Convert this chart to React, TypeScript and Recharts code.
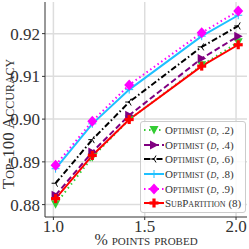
import { LineChart, Line, XAxis, YAxis, CartesianGrid } from "recharts";

const probed = [1.012, 1.213, 1.415, 1.812, 2.012];
const optimist2 = [0.8801, 0.8911, 0.8999, 0.9126, 0.918];
const optimist4 = [0.8822, 0.8923, 0.9009, 0.9142, 0.9194];
const optimist6 = [0.885, 0.8952, 0.904, 0.9169, 0.9218];
const optimist8 = [0.8884, 0.8989, 0.9069, 0.9194, 0.9243];
const optimist9 = [0.8892, 0.8995, 0.908, 0.9202, 0.9253];
const subPartition = [0.8814, 0.8915, 0.8999, 0.9124, 0.9174];

const xTicks = [1.0, 1.5, 2.0];
const yTicks = [0.88, 0.89, 0.9, 0.91, 0.92];

const data = probed.map((x, i) => ({
  x,
  o2: optimist2[i],
  o4: optimist4[i],
  o6: optimist6[i],
  o8: optimist8[i],
  o9: optimist9[i],
  sp: subPartition[i],
}));

const FONT = "'Liberation Serif', 'DejaVu Serif', serif";
const TEXT = "#333";

type MarkerKind = "down" | "right" | "tri" | "plus" | "diamond" | "bigplus";

function Marker({ kind, cx, cy, color }: { kind: MarkerKind; cx: number; cy: number; color: string }) {
  if (kind === "down") {
    return <polygon points={`${cx - 4.5},${cy - 4} ${cx + 4.5},${cy - 4} ${cx},${cy + 4.5}`} fill={color} />;
  }
  if (kind === "right") {
    return <polygon points={`${cx - 4},${cy - 4.5} ${cx - 4},${cy + 4.5} ${cx + 4.5},${cy}`} fill={color} />;
  }
  if (kind === "tri") {
    return (
      <g stroke={color} strokeWidth={1}>
        <line x1={cx} y1={cy} x2={cx - 4} y2={cy} />
        <line x1={cx} y1={cy} x2={cx + 2} y2={cy - 3.5} />
        <line x1={cx} y1={cy} x2={cx + 2} y2={cy + 3.5} />
      </g>
    );
  }
  if (kind === "plus") {
    return (
      <g stroke={color} strokeWidth={1}>
        <line x1={cx - 4} y1={cy} x2={cx + 4} y2={cy} />
        <line x1={cx} y1={cy - 4} x2={cx} y2={cy + 4} />
      </g>
    );
  }
  if (kind === "diamond") {
    return <polygon points={`${cx},${cy - 5.5} ${cx + 5},${cy} ${cx},${cy + 5.5} ${cx - 5},${cy}`} fill={color} />;
  }
  return (
    <g fill={color}>
      <rect x={cx - 4.5} y={cy - 1.6} width={9} height={3.2} />
      <rect x={cx - 1.6} y={cy - 4.5} width={3.2} height={9} />
    </g>
  );
}

const series = [
  { key: "o2", color: "#33cc33", dash: "1.5 3.5", kind: "down" as MarkerKind, d: ".2" },
  { key: "o4", color: "#800080", dash: "6 3", kind: "right" as MarkerKind, d: ".4" },
  { key: "o6", color: "#000000", dash: "6 2.5 1.5 2.5", kind: "tri" as MarkerKind, d: ".6" },
  { key: "o8", color: "#1ec0ff", dash: undefined, kind: "plus" as MarkerKind, d: ".8" },
  { key: "o9", color: "#ff00ff", dash: "1.5 3", kind: "diamond" as MarkerKind, d: ".9" },
  { key: "sp", color: "#ff0000", dash: undefined, kind: "bigplus" as MarkerKind, d: "" },
];

function LegendBox() {
  return (
    <div
      style={{
        position: "absolute",
        left: 140,
        top: 121,
        width: 106,
        border: "1px solid #cccccc",
        borderRadius: 3,
        background: "rgba(255,255,255,0.85)",
        padding: "1px 2px 1px 2px",
        fontFamily: FONT,
        fontSize: 11,
        fontVariant: "small-caps",
        color: TEXT,
        boxSizing: "border-box",
      }}
    >
      {series.map((s) => (
        <div key={s.key} style={{ display: "flex", alignItems: "center", height: 14.6, whiteSpace: "nowrap" }}>
          <svg width={21} height={12} style={{ flex: "none" }}>
            <line x1={1} y1={6} x2={21} y2={6} stroke={s.color} strokeWidth={2} strokeDasharray={s.dash} />
            <Marker kind={s.kind} cx={11} cy={6} color={s.color} />
          </svg>
          <span style={{ marginLeft: 1 }}>
            {s.key === "sp" ? (
              <>SubPartition (8)</>
            ) : (
              <>
                Optimist (<i>d</i>, {s.d})
              </>
            )}
          </span>
        </div>
      ))}
    </div>
  );
}

export default function App() {
  return (
    <div style={{ position: "fixed", left: 0, top: 0, width: 249, height: 249, background: "#fff" }}>
      <LineChart width={249} height={249} data={data} margin={{ top: 2, right: 2, bottom: 0, left: 0 }}>
        <CartesianGrid stroke="#dddddd" strokeWidth={1.5} verticalValues={xTicks} horizontalValues={yTicks} />
        <XAxis
          dataKey="x"
          type="number"
          domain={[0.954, 2.06]}
          ticks={xTicks}
          interval={0}
          tickFormatter={(v: number) => v.toFixed(1)}
          allowDataOverflow
          height={32}
          stroke={TEXT}
          tickSize={3}
          tick={{ fontFamily: FONT, fontSize: 17, fill: TEXT, dy: -2 }}
          label={(p: any) => (
            <text
              x={p.viewBox.x + p.viewBox.width / 2}
              y={245}
              textAnchor="middle"
              fill={TEXT}
              style={{ fontFamily: FONT, fontSize: 16, fontVariant: "small-caps" }}
            >
              % points probed
            </text>
          )}
        />
        <XAxis xAxisId="top" dataKey="x" type="number" domain={[0.954, 2.06]} orientation="top" height={0} tick={false} tickLine={false} stroke={TEXT} />
        <YAxis
          type="number"
          domain={[0.8771, 0.9274]}
          ticks={yTicks}
          interval={0}
          tickFormatter={(v: number) => v.toFixed(2)}
          allowDataOverflow
          width={45}
          stroke={TEXT}
          tickSize={3}
          tick={{ fontFamily: FONT, fontSize: 17, fill: TEXT }}
          label={() => (
            <text
              x={14}
              y={124}
              transform="rotate(-90 14 124)"
              textAnchor="middle"
              fill={TEXT}
              style={{ fontFamily: FONT, fontSize: 17, fontVariant: "small-caps" }}
            >
              Top-100 Accuracy
            </text>
          )}
        />
        <YAxis yAxisId="right" type="number" domain={[0.8771, 0.9274]} orientation="right" width={0} tick={false} tickLine={false} stroke={TEXT} />
        {series.map((s) => (
          <Line
            key={s.key}
            dataKey={s.key}
            stroke={s.color}
            strokeWidth={2}
            strokeDasharray={s.dash}
            type="linear"
            isAnimationActive={false}
            dot={(p: any) => <Marker key={`${s.key}-${p.index}`} kind={s.kind} cx={p.cx} cy={p.cy} color={s.color} />}
            activeDot={false}
          />
        ))}
      </LineChart>
      <LegendBox />
    </div>
  );
}
